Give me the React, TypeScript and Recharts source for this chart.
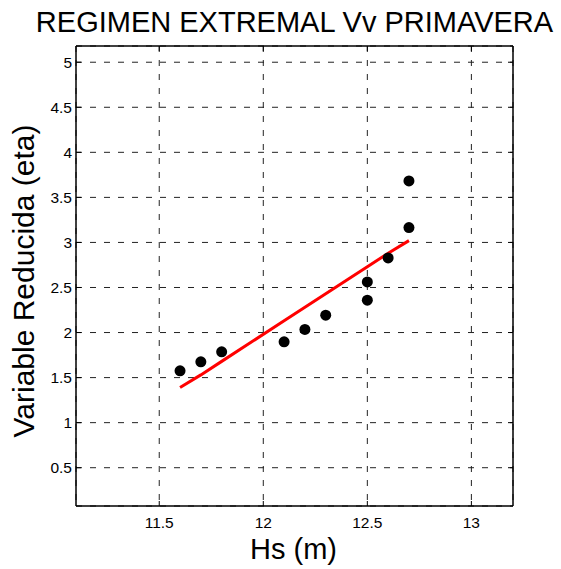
import React from 'react';
import { ComposedChart, Scatter, Line, XAxis, YAxis, CartesianGrid, Label } from 'recharts';

const obsHs = [11.6, 11.7, 11.8, 12.1, 12.2, 12.3, 12.5, 12.5, 12.6, 12.7, 12.7];
const obsEta = [1.575, 1.675, 1.786, 1.897, 2.034, 2.193, 2.359, 2.562, 2.828, 3.165, 3.682];

const fitHs = [11.6, 11.7, 11.8, 12.1, 12.2, 12.3, 12.5, 12.6, 12.7];
const fitEta = [1.39, 1.53, 1.68, 2.13, 2.28, 2.43, 2.73, 2.88, 3.02];

const xTicks = [11.5, 12, 12.5, 13];
const yTicks = [0.5, 1, 1.5, 2, 2.5, 3, 3.5, 4, 4.5, 5];

const titleText = 'REGIMEN EXTREMAL Vv PRIMAVERA';
const xLabelText = 'Hs (m)';
const yLabelText = 'Variable Reducida (eta)';

const obsData = obsHs.map((x, i) => ({ x, y: obsEta[i] }));
const fitData = fitHs.map((x, i) => ({ x, y: fitEta[i] }));

const FONT = '"Liberation Sans", Arial, Helvetica, sans-serif';
const tickStyle = { fontSize: 15.5, fill: '#000', fontFamily: FONT };
const axisLineStyle = { stroke: '#000', strokeWidth: 1.5 };
const tickLineStyle = { stroke: '#000', strokeWidth: 1 };

export default function App() {
  return (
    <div style={{ position: 'absolute', left: 0, top: 0, background: '#fff' }}>
      <ComposedChart
        width={561}
        height={569}
        margin={{ top: 45, right: 47, bottom: 0, left: 0 }}
        style={{ fontFamily: FONT }}
      >
        <CartesianGrid
          stroke="#222"
          strokeDasharray="6 8"
          strokeWidth={1}
          fill="none"
          xAxisId="b"
          yAxisId="l"
        />
        <XAxis
          xAxisId="b"
          type="number"
          dataKey="x"
          domain={[11.1, 13.2]}
          ticks={xTicks}
          allowDataOverflow
          height={63}
          tickSize={-5}
          tickMargin={16}
          tick={tickStyle}
          axisLine={axisLineStyle}
          tickLine={tickLineStyle}
          interval={0}
        >
          <Label
            content={(props: any) => {
              const vb = props.viewBox || {};
              return (
                <text
                  x={vb.x + vb.width / 2 - 1}
                  y={559}
                  textAnchor="middle"
                  fontSize={29}
                  fontFamily={FONT}
                  fill="#000"
                >
                  {xLabelText}
                </text>
              );
            }}
          />
        </XAxis>
        <XAxis
          xAxisId="t"
          orientation="top"
          type="number"
          dataKey="x"
          domain={[11.1, 13.2]}
          ticks={xTicks}
          allowDataOverflow
          height={1}
          tickSize={-5}
          tickMargin={0}
          tick={{ fontSize: 1, fill: 'none' }}
          tickFormatter={() => ''}
          axisLine={axisLineStyle}
          tickLine={tickLineStyle}
          interval={0}
        >
          <Label
            content={(props: any) => {
              const vb = props.viewBox || {};
              return (
                <text
                  x={vb.x + vb.width / 2}
                  y={32}
                  textAnchor="middle"
                  fontSize={29}
                  fontFamily={FONT}
                  fill="#000"
                >
                  {titleText}
                </text>
              );
            }}
          />
        </XAxis>
        <YAxis
          yAxisId="l"
          type="number"
          dataKey="y"
          domain={[0.075, 5.18]}
          ticks={yTicks}
          allowDataOverflow
          width={76}
          tickSize={-5}
          tickMargin={9}
          tick={tickStyle}
          axisLine={axisLineStyle}
          tickLine={tickLineStyle}
          interval={0}
        >
          <Label
            content={(props: any) => {
              const vb = props.viewBox || {};
              const cy = vb.y + vb.height / 2 + 5;
              return (
                <text
                  x={34}
                  y={cy}
                  transform={`rotate(-90, 34, ${cy})`}
                  textAnchor="middle"
                  fontSize={30}
                  fontFamily={FONT}
                  fill="#000"
                >
                  {yLabelText}
                </text>
              );
            }}
          />
        </YAxis>
        <YAxis
          yAxisId="r"
          orientation="right"
          type="number"
          dataKey="y"
          domain={[0.075, 5.18]}
          ticks={yTicks}
          allowDataOverflow
          width={1}
          tickSize={-5}
          tickMargin={0}
          tick={{ fontSize: 1, fill: 'none' }}
          tickFormatter={() => ''}
          axisLine={axisLineStyle}
          tickLine={tickLineStyle}
          interval={0}
        />
        <Line
          data={fitData}
          xAxisId="b"
          yAxisId="l"
          dataKey="y"
          type="linear"
          stroke="#ff0000"
          strokeWidth={3}
          dot={false}
          activeDot={false}
          isAnimationActive={false}
        />
        <Scatter
          data={obsData}
          xAxisId="b"
          yAxisId="l"
          dataKey="y"
          fill="#000"
          isAnimationActive={false}
          shape={(p: any) => <circle cx={p.cx} cy={p.cy} r={5.5} fill="#000" />}
        />
      </ComposedChart>
    </div>
  );
}
